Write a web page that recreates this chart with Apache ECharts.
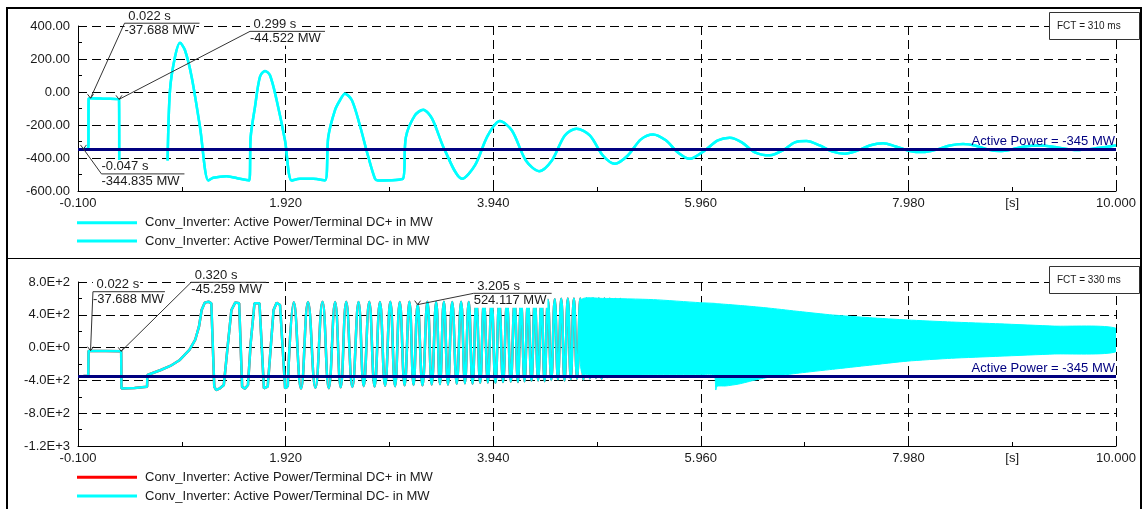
<!DOCTYPE html>
<html>
<head>
<meta charset="utf-8">
<script src="https://cdn.jsdelivr.net/npm/echarts@6/dist/echarts.min.js"></script>
<style>
  html, body { margin: 0; padding: 0; background: #fff; width: 1144px; height: 509px; overflow: hidden; }
  #top { position: absolute; left: 0; top: 0; width: 1144px; height: 258px; }
  #bottom { position: absolute; left: 0; top: 258px; width: 1144px; height: 290px; }
  #frame { position: absolute; left: 6px; top: 7px; width: 1132px; height: 540px; border: 2px solid #000; pointer-events: none; }
  #sep { position: absolute; left: 6px; top: 258px; width: 1136px; height: 1px; background: #000; pointer-events: none; }
</style>
</head>
<body>
<div id="top"></div>
<div id="bottom"></div>
<div id="frame"></div>
<div id="sep"></div>
<script>
// ---- axes -------------------------------------------------------------
const xMin = -0.1, xMax = 10.0, xStep = 2.02;
const xTickLabels = ['-0.100', '1.920', '3.940', '5.960', '7.980', '10.000'];
const xUnitLabel = '[s]';
const xUnitAt = 8.99;
const topYTickLabels = ['-600.00', '-400.00', '-200.00', '0.00', '200.00', '400.00'];
const bottomYTickLabels = ['-1.2E+3', '-8.0E+2', '-4.0E+2', '0.0E+0', '4.0E+2', '8.0E+2'];

// ---- legend / reference level ----------------------------------------
const seriesNames = [
  'Conv_Inverter: Active Power/Terminal DC+ in MW',
  'Conv_Inverter: Active Power/Terminal DC- in MW'
];
const activePower = -345;
const activePowerLabel = 'Active Power = -345 MW';
const topFct = 'FCT = 310 ms';
const bottomFct = 'FCT = 330 ms';

// ---- upper panel: inverter DC power, [time s, MW]; null = converter blocked
const topTrace = [
  [-0.047, -344.835], [0.0, -345], [0.004, -40], [0.022, -37.688], [0.16, -41], [0.299, -44.522],
  [0.301, -415], [0.5, null], [0.772, -415], [0.795, 10], [0.844, 213], [0.892, 298], [0.941, 253],
  [1.006, 91], [1.087, -212], [1.168, -536], [1.216, -520], [1.346, -510], [1.476, -526], [1.566, -536],
  [1.58, -273], [1.622, -91], [1.67, 91], [1.719, 128], [1.768, 101], [1.833, -50], [1.914, -293],
  [1.979, -536], [2.06, -526], [2.189, -526], [2.303, -536], [2.335, -273], [2.4, -111], [2.449, -50],
  [2.497, -10], [2.565, -50], [2.643, -203], [2.721, -385], [2.789, -524], [2.818, -536], [3.061, -526],
  [3.09, -275], [3.178, -142], [3.259, -107], [3.344, -160], [3.47, -354], [3.638, -526], [3.762, -445],
  [3.888, -263], [4.005, -176], [4.122, -233], [4.258, -415], [4.387, -480], [4.511, -415], [4.637, -263],
  [4.751, -222], [4.88, -263], [5.007, -385], [5.124, -435], [5.25, -385], [5.377, -287], [5.496, -257],
  [5.62, -293], [5.737, -366], [5.853, -405], [5.999, -354], [6.126, -293], [6.242, -277], [6.359, -305],
  [6.486, -366], [6.631, -384], [6.758, -354], [6.875, -305], [6.988, -297], [7.118, -324], [7.235, -360],
  [7.361, -374], [7.488, -354], [7.604, -324], [7.734, -310], [7.857, -330], [7.993, -357], [8.123, -364],
  [8.256, -348], [8.383, -324], [8.512, -315], [8.626, -324], [8.752, -348], [8.869, -357], [8.986, -348],
  [9.112, -330], [9.258, -324], [9.404, -333], [9.55, -348], [9.647, -351], [9.793, -342], [9.938, -330],
  [10.0, -324]
];
const topNotes = [[0.022, -37.688], [0.299, -44.522], [-0.047, -344.835]];

// ---- lower panel: start-up after the fault, [time s, MW]
const bottomStart = [
  [-0.047, -345], [0.0, -345], [0.003, -40], [0.022, -37.688], [0.17, -41], [0.32, -45.259],
  [0.323, -500], [0.45, -492], [0.572, -478], [0.576, -334], [0.705, -273], [0.798, -224],
  [0.891, -151], [0.984, -29], [1.04, 93], [1.077, 255], [1.103, 459], [1.133, 548], [1.17, 560],
  [1.197, 540], [1.226, -477], [1.244, -517], [1.281, -496], [1.319, -456], [1.356, 11], [1.393, 459],
  [1.431, 552], [1.468, 540], [1.497, -477], [1.524, -500], [1.554, -456], [1.58, 52], [1.617, 540],
  [1.666, 540], [1.709, -496], [1.746, -477], [1.803, 459], [1.833, 548], [1.866, 520], [1.915, -496],
  [1.941, -477]
];
// oscillation cycles: [peak time, peak MW, trough time, trough MW]
const bottomCycles = [
  [2.000, 552, 2.070, -500], [2.138, 556, 2.210, -490], [2.279, 558, 2.340, -495],
  [2.402, 555, 2.456, -485], [2.510, 560, 2.570, -480], [2.630, 556, 2.680, -470],
  [2.734, 560, 2.786, -475], [2.838, 555, 2.888, -465], [2.939, 560, 2.985, -470],
  [3.031, 556, 3.078, -460], [3.125, 560, 3.165, -455], [3.205, 524.117, 3.252, -460],
  [3.300, 560, 3.342, -450], [3.385, 556, 3.422, -445], [3.460, 560, 3.500, -450],
  [3.541, 555, 3.585, -440], [3.628, 560, 3.665, -435], [3.702, 556, 3.739, -440],
  [3.776, 560, 3.813, -430], [3.850, 555, 3.888, -425], [3.925, 558, 3.962, -430],
  [3.999, 560, 4.036, -420], [4.074, 556, 4.111, -415], [4.148, 560, 4.180, -420],
  [4.211, 565, 4.245, -410], [4.278, 570, 4.312, -405], [4.345, 575, 4.377, -400],
  [4.409, 580, 4.440, -410], [4.472, 585, 4.505, -395], [4.539, 590, 4.570, -390],
  [4.602, 595, 4.634, -400], [4.666, 598, 4.695, -385], [4.725, 600, 4.756, -380],
  [4.788, 600, 4.818, -390], [4.848, 600, 4.880, -375], [4.912, 600, 4.940, -370],
  [4.968, 600, 4.995, -380], [5.023, 598, 5.049, -360], [5.075, 596, 5.102, -350],
  [5.129, 594, 5.153, -345], [5.177, 592, 5.200, -340]
];
// envelope of the fast, densely packed oscillation
const bandTime = [4.8, 5.0, 5.5, 5.95, 6.09, 6.106, 6.12, 6.2, 6.33, 6.49, 6.65, 6.92, 7.24, 7.6, 7.97, 8.4, 8.87, 9.4, 10.0];
const bandHigh = [585, 600, 585, 548, 540, 538, 536, 528, 515, 498, 478, 440, 398, 365, 337, 312, 290, 262, 235];
const bandLow = [-300, -335, -330, -330, -335, -517, -470, -468, -444, -395, -355, -310, -265, -215, -165, -130, -105, -78, -50];
const bottomNotes = [[0.022, -37.688], [0.320, -45.259], [3.205, 524.117]];

// ---- drawing ------------------------------------------------------------
const FONT = '"Liberation Sans", Arial, Helvetica, sans-serif';
const CYAN = '#00ffff', RED = '#ff0000', NAVY = '#000080', INK = '#1a1a1a', LEAD = '#333333';
const xSpan = +(xMax - xMin).toFixed(3);   // x axis runs from 0 so ticks fall on xMin + k*xStep
const toAxis = pts => pts.map(([t, v]) => [t - xMin, v === null ? '-' : v]);

function cyclePoints() {
  const pts = [bottomStart[bottomStart.length - 1]];
  bottomCycles.forEach(([pt, pv, tt, tv]) => { pts.push([pt, pv]); pts.push([tt, tv]); });
  return pts;
}

function panelOption(p) {
  const lineSeries = (name, color, z, pts, smooth) => ({
    name, type: 'line', data: toAxis(pts), symbol: 'none', showSymbol: false, silent: true,
    smooth, color, lineStyle: {color, width: 2.5}, itemStyle: {color}, z, clip: true
  });
  const series = [];
  p.parts.forEach(part => {
    series.push(lineSeries(seriesNames[0], p.colors[0], 2, part.pts, part.smooth));
  });
  p.parts.forEach(part => {
    series.push(lineSeries(seriesNames[1], p.colors[1], 3, part.pts, part.smooth));
  });
  if (p.band) {
    series.push({
      type: 'custom', silent: true, z: 3, clip: true, data: [[5, 0]],
      renderItem: (params, api) => {
        const pts = [];
        bandTime.forEach((t, i) => pts.push(api.coord([t - xMin, bandHigh[i]])));
        for (let i = bandTime.length - 1; i >= 0; i--) pts.push(api.coord([bandTime[i] - xMin, bandLow[i]]));
        return {type: 'polygon', shape: {points: pts, smooth: 0.2}, style: {fill: p.colors[1], stroke: p.colors[1], lineWidth: 1}};
      }
    });
  }
  series.push({
    type: 'line', data: [], z: 6, silent: true,
    markLine: {
      silent: true, symbol: 'none', animation: false,
      data: [{yAxis: activePower}],
      lineStyle: {color: NAVY, width: 3, type: 'solid'},
      label: {show: true, position: 'insideEndTop', distance: 1, formatter: activePowerLabel,
              color: NAVY, fontSize: 13, fontFamily: FONT}
    }
  });
  const tickLine = {color: '#000', width: 1};
  return {
    animation: false,
    textStyle: {fontFamily: FONT},
    grid: {left: 78, right: 28, top: p.gridTop, height: p.gridHeight},
    legend: {
      orient: 'vertical', left: 77, top: p.legendTop, padding: 0, itemWidth: 60, itemHeight: 3, itemGap: p.legendGap,
      icon: 'rect', selectedMode: false, data: seriesNames,
      textStyle: {fontSize: 13, color: INK, fontFamily: FONT, lineHeight: 14, padding: [0, 0, 0, 3]}
    },
    xAxis: {
      type: 'value', min: 0, max: xSpan, interval: xStep,
      axisLine: {onZero: false, lineStyle: tickLine},
      axisTick: {show: true, inside: true, length: 4, lineStyle: tickLine},
      minorTick: {show: true, splitNumber: 2, length: 4, lineStyle: tickLine},
      splitLine: {show: true, lineStyle: {color: '#000', width: 1, type: [9, 5]}},
      axisLabel: {margin: 6, fontSize: 13, color: INK, fontFamily: FONT, showMinLabel: true, showMaxLabel: true,
                  formatter: v => xTickLabels[Math.round(v / xStep)]}
    },
    yAxis: {
      type: 'value', min: p.yMin, max: p.yMax, interval: p.yStep,
      axisLine: {show: true, lineStyle: tickLine},
      axisTick: {show: true, inside: true, length: 4, lineStyle: tickLine},
      minorTick: {show: true, splitNumber: 2, length: 4, lineStyle: tickLine},
      splitLine: {show: true, lineStyle: {color: '#000', width: 1, type: [9, 5]}},
      axisLabel: {margin: 8, fontSize: 13, color: INK, fontFamily: FONT,
                  formatter: v => p.yTickLabels[Math.round((v - p.yMin) / p.yStep)]}
    },
    series
  };
}

const timeText = t => (t < 0 ? '' : ' ') + t.toFixed(3) + ' s';
const powerText = v => v.toFixed(3) + ' MW';

function overlay(chart, p) {
  const els = [];
  const textEl = (x, y, text) => ({
    type: 'text', z: 100, x, y, silent: true,
    style: {text, fill: INK, font: '13px ' + FONT, align: 'left', verticalAlign: 'middle',
            backgroundColor: '#fff', padding: [1, 1, 0, 0]}
  });
  p.notes.forEach(([t, v], i) => {
    const [px, py] = chart.convertToPixel({gridIndex: 0}, [t - xMin, v]);
    const [dx, dy, len] = p.noteLayout[i];
    const ex = px + dx, ey = py + dy;
    els.push(textEl(ex, ey - 7, timeText(t)));
    els.push(textEl(ex, ey + 7.5, powerText(v)));
    els.push({type: 'polyline', z: 101, silent: true, shape: {points: [[px, py], [ex, ey], [ex + len, ey]]},
              style: {stroke: LEAD, lineWidth: 1, fill: null}});
    els.push({type: 'polyline', z: 101, silent: true, shape: {points: [[px - 3, py - 4], [px, py], [px + 3, py - 4]]},
              style: {stroke: LEAD, lineWidth: 1, fill: null}});
  });
  // time-unit caption under the axis
  const [ux, uy] = chart.convertToPixel({gridIndex: 0}, [xUnitAt - xMin, p.yMin]);
  els.push({type: 'text', z: 100, x: ux, y: uy + 6, silent: true,
            style: {text: xUnitLabel, fill: INK, font: '13px ' + FONT, align: 'center', verticalAlign: 'top'}});
  // fault-clearing-time box
  els.push({type: 'rect', z: 100, silent: true, shape: {x: 1049.5, y: p.fctY + 0.5, width: 90, height: 27},
            style: {fill: '#fff', stroke: LEAD, lineWidth: 1}});
  els.push({type: 'text', z: 101, x: 1057, y: p.fctY + 14, silent: true,
            style: {text: p.fct, fill: INK, font: '10px ' + FONT, align: 'left', verticalAlign: 'middle'}});
  chart.setOption({graphic: els});
}

const panels = [
  {
    el: 'top', parts: [{pts: topTrace, smooth: 0.3}], colors: [CYAN, CYAN], band: false,
    gridTop: 26, gridHeight: 165, yMin: -600, yMax: 400, yStep: 200, yTickLabels: topYTickLabels,
    legendTop: 215.7, legendGap: 4.3, notes: topNotes,
    noteLayout: [[34, -75, 75], [131, -68, 75], [18, 25, 83]],
    fct: topFct, fctY: 12
  },
  {
    el: 'bottom', parts: [{pts: bottomStart, smooth: false}, {pts: cyclePoints(), smooth: 0.45}],
    colors: [RED, CYAN], band: true,
    gridTop: 24, gridHeight: 164, yMin: -1200, yMax: 800, yStep: 400, yTickLabels: bottomYTickLabels,
    legendTop: 212.3, legendGap: 4.7, notes: bottomNotes,
    noteLayout: [[2.4, -59, 72], [70, -69, 75], [56, -11.3, 78]],
    fct: bottomFct, fctY: 8
  }
];

panels.forEach(p => {
  const chart = echarts.init(document.getElementById(p.el), null, {renderer: 'canvas'});
  chart.setOption(panelOption(p));
  overlay(chart, p);
});
</script>
</body>
</html>
